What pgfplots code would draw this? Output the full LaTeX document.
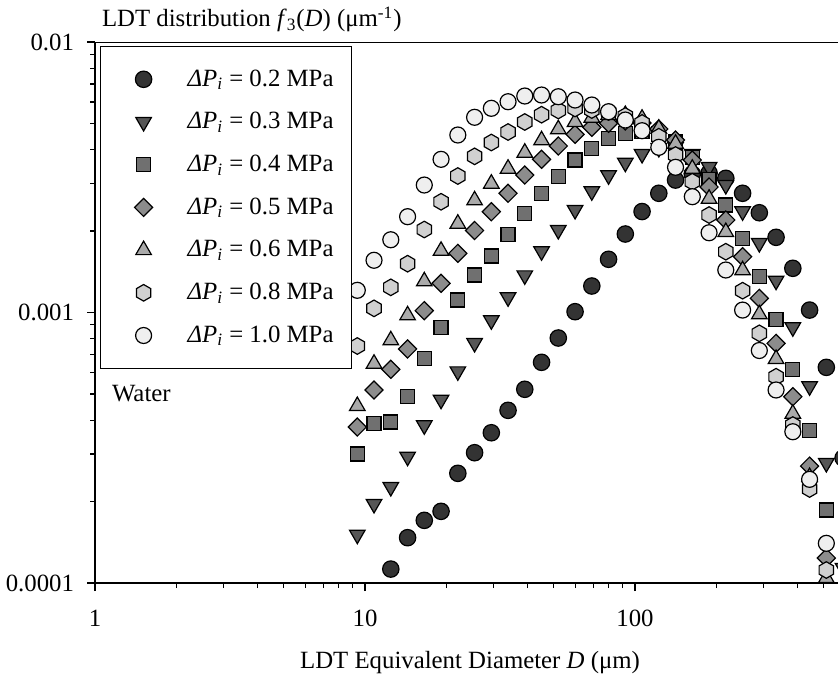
\documentclass[border=0pt]{standalone}
\usepackage{fontspec}
\setmainfont{Liberation Serif}
\usepackage{pgfplots}
\usepackage{pgfplotstable}
\pgfplotsset{compat=1.18}
\newcommand\fs{\fontsize{12.4}{14.8}\selectfont}
\definecolor{cA}{HTML}{333333}
\definecolor{cB}{HTML}{565656}
\definecolor{cC}{HTML}{707070}
\definecolor{cD}{HTML}{8C8C8C}
\definecolor{cE}{HTML}{AAAAAA}
\definecolor{cF}{HTML}{D0D0D0}
\definecolor{cG}{HTML}{EFEFEF}
\pgfdeclareplotmark{hexagon*}{%
  \pgfpathmoveto{\pgfpointpolar{90}{\pgfplotmarksize}}%
  \pgfpathlineto{\pgfpointpolar{150}{\pgfplotmarksize}}%
  \pgfpathlineto{\pgfpointpolar{210}{\pgfplotmarksize}}%
  \pgfpathlineto{\pgfpointpolar{270}{\pgfplotmarksize}}%
  \pgfpathlineto{\pgfpointpolar{330}{\pgfplotmarksize}}%
  \pgfpathlineto{\pgfpointpolar{30}{\pgfplotmarksize}}%
  \pgfpathclose
  \pgfusepathqfillstroke}
\pgfplotstableread{
k D a02 a03 a04 a05 a06 a08 a10
0 9.365 nan 1.509e-4 2.999e-4 3.773e-4 4.511e-4 7.519e-4 1.208e-3
1 10.80 nan 1.960e-4 3.894e-4 5.171e-4 6.467e-4 1.036e-3 1.560e-3
2 12.46 1.126e-4 2.264e-4 3.937e-4 6.166e-4 7.893e-4 1.239e-3 1.858e-3
3 14.38 1.471e-4 2.930e-4 4.883e-4 7.331e-4 9.763e-4 1.515e-3 2.261e-3
4 16.58 1.705e-4 3.828e-4 6.772e-4 1.016e-3 1.304e-3 2.027e-3 2.960e-3
5 19.13 1.841e-4 4.760e-4 8.817e-4 1.282e-3 1.691e-3 2.567e-3 3.684e-3
6 22.07 2.544e-4 6.060e-4 1.112e-3 1.655e-3 2.130e-3 3.196e-3 4.531e-3
7 25.46 3.032e-4 7.713e-4 1.376e-3 2.010e-3 2.598e-3 3.779e-3 5.268e-3
8 29.37 3.594e-4 9.359e-4 1.618e-3 2.358e-3 2.994e-3 4.251e-3 5.687e-3
9 33.87 4.349e-4 1.138e-3 1.946e-3 2.759e-3 3.401e-3 4.648e-3 6.016e-3
10 39.07 5.202e-4 1.372e-3 2.326e-3 3.223e-3 3.898e-3 5.062e-3 6.315e-3
11 45.07 6.545e-4 1.684e-3 2.759e-3 3.684e-3 4.331e-3 5.385e-3 6.369e-3
12 51.99 8.049e-4 2.018e-3 3.177e-3 4.126e-3 4.757e-3 5.582e-3 6.277e-3
13 59.98 1.007e-3 2.393e-3 3.662e-3 4.558e-3 5.062e-3 5.678e-3 6.103e-3
14 69.19 1.253e-3 2.806e-3 4.046e-3 4.838e-3 5.250e-3 5.605e-3 5.849e-3
15 79.82 1.573e-3 3.215e-3 4.390e-3 5.005e-3 5.372e-3 5.511e-3 5.525e-3
16 92.07 1.951e-3 3.579e-3 4.597e-3 5.104e-3 5.372e-3 5.326e-3 5.147e-3
17 106.2 2.362e-3 3.855e-3 4.660e-3 5.019e-3 5.205e-3 5.019e-3 4.700e-3
18 122.5 2.759e-3 4.056e-3 4.569e-3 4.769e-3 4.781e-3 4.466e-3 4.080e-3
19 141.3 3.088e-3 4.091e-3 4.269e-3 4.342e-3 4.207e-3 3.822e-3 3.442e-3
20 163.0 3.251e-3 3.855e-3 3.748e-3 3.662e-3 3.401e-3 3.044e-3 2.680e-3
21 188.1 3.279e-3 3.451e-3 3.107e-3 2.911e-3 2.634e-3 2.293e-3 1.972e-3
22 216.9 3.134e-3 2.960e-3 2.497e-3 2.198e-3 1.984e-3 1.678e-3 1.436e-3
23 250.3 2.759e-3 2.366e-3 1.880e-3 1.608e-3 1.432e-3 1.204e-3 1.021e-3
24 288.7 2.338e-3 1.806e-3 1.356e-3 1.128e-3 9.847e-4 8.377e-4 7.237e-4
25 333.0 1.897e-3 1.311e-3 9.438e-4 7.693e-4 6.732e-4 5.789e-4 5.171e-4
26 384.2 1.457e-3 8.817e-4 6.166e-4 4.883e-4 4.226e-4 3.838e-4 3.625e-4
27 443.2 1.021e-3 5.336e-4 3.656e-4 2.706e-4 2.465e-4 2.226e-4 2.417e-4
28 511.2 6.270e-4 2.777e-4 1.862e-4 1.237e-4 1.043e-4 1.117e-4 1.402e-4
29 589.7 2.898e-4 1.136e-4 nan nan nan nan nan
}\datatable
\begin{document}
\begin{tikzpicture}
\begin{axis}[
  scale only axis, width=405pt, height=270.5pt,
  xmode=log, ymode=log,
  xmin=1, xmax=1000, ymin=1e-4, ymax=1e-2,
  axis x line*=bottom, axis y line*=left,
  xtick align=outside, ytick align=outside,
  major tick length=4pt, minor tick length=2.5pt,
  xtick={1,10,100}, xticklabels={1,10,100},
  minor xtick={2,3,4,5,6,7,8,9,20,30,40,50,60,70,80,90,200,300,400,500,600,700,800,900},
  ytick={1e-4,1e-3,1e-2}, yticklabels={0.0001,0.001,0.01},
  minor ytick={2e-4,3e-4,4e-4,5e-4,6e-4,7e-4,8e-4,9e-4,2e-3,3e-3,4e-3,5e-3,6e-3,7e-3,8e-3,9e-3},
  every tick/.style={black, line width=0.6pt},
  axis line style={line width=0.6pt, black},
  ticklabel style={font=\fs},
  xticklabel style={yshift=-6pt},
  yticklabel style={xshift=-3pt},
  every axis x label/.style={at={(axis description cs:0.463,0)}, anchor=center, yshift=-40pt, font=\fs},
  every axis y label/.style={at={(axis description cs:0,1)}, anchor=base west, yshift=7.5pt, font=\fs},
  xlabel={LDT Equivalent Diameter \textit{D} (μm)},
  ylabel={LDT distribution \textit{f}\textsubscript{3}(\textit{D}) (μm\textsuperscript{-1})},
  legend style={at={(rel axis cs:0,1)}, anchor=north west, xshift=2.5pt, yshift=-1.85pt,
    draw=black, line width=0.6pt, fill=white, font=\fs,
    inner xsep=7pt, inner ysep=9.5pt, row sep=7.35pt,
    /tikz/every even column/.append style={column sep=0pt}},
  legend cell align=left,
  legend image code/.code={\path[draw=none,fill=none] (-14.5pt,-7pt) rectangle (20pt,7pt); \draw[#1] plot coordinates {(0pt,0pt)};},
]
\addplot[only marks, mark=*, mark size=4.1pt, mark options={draw=black, fill=cA, line width=0.6pt}] table[x=D, y=a02] {\datatable};
\addlegendentry{\textit{ΔP}\textsubscript{\textit{i}} = 0.2 MPa}
\addplot[only marks, mark=triangle*, mark size=4.5pt, mark options={rotate=180, draw=black, fill=cB, line width=0.6pt}] table[x=D, y=a03] {\datatable};
\addlegendentry{\textit{ΔP}\textsubscript{\textit{i}} = 0.3 MPa}
\addplot[only marks, mark=square*, mark size=3.5pt, mark options={draw=black, fill=cC, line width=0.6pt}] table[x=D, y=a04] {\datatable};
\addlegendentry{\textit{ΔP}\textsubscript{\textit{i}} = 0.4 MPa}
\addplot[only marks, mark=square*, mark size=3.2pt, mark options={rotate=45, draw=black, fill=cD, line width=0.6pt}] table[x=D, y=a05] {\datatable};
\addlegendentry{\textit{ΔP}\textsubscript{\textit{i}} = 0.5 MPa}
\addplot[only marks, mark=triangle*, mark size=4.5pt, mark options={draw=black, fill=cE, line width=0.6pt}] table[x=D, y=a06] {\datatable};
\addlegendentry{\textit{ΔP}\textsubscript{\textit{i}} = 0.6 MPa}
\addplot[only marks, mark=hexagon*, mark size=4.15pt, mark options={draw=black, fill=cF, line width=0.6pt}] table[x=D, y=a08] {\datatable};
\addlegendentry{\textit{ΔP}\textsubscript{\textit{i}} = 0.8 MPa}
\addplot[only marks, mark=*, mark size=4pt, mark options={draw=black, fill=cG, line width=0.6pt}] table[x=D, y=a10] {\datatable};
\addlegendentry{\textit{ΔP}\textsubscript{\textit{i}} = 1.0 MPa}
\draw[line width=0.6pt] (rel axis cs:0,1) -- (rel axis cs:1,1);
\node[anchor=base west, font=\fs, xshift=5pt, yshift=-179.8pt] at (rel axis cs:0,1) {Water};
\coordinate (BL) at (rel axis cs:0,0);
\end{axis}
\pgfresetboundingbox
\path[use as bounding box] (BL) ++(-47.5pt,-50.5pt) rectangle ++(419pt,342pt);
\end{tikzpicture}
\end{document}
